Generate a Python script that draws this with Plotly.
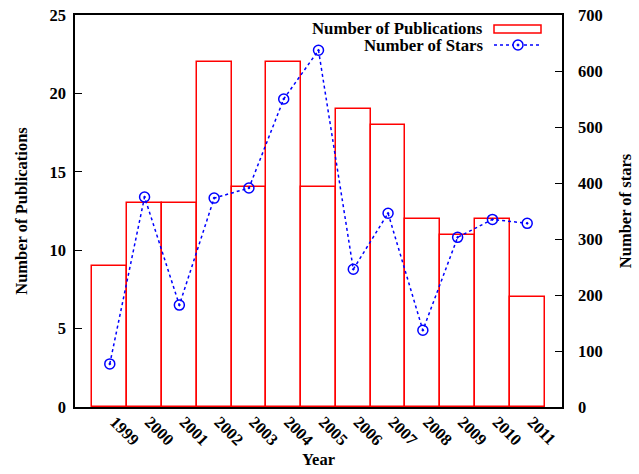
import plotly.graph_objects as go

years = ["1999", "2000", "2001", "2002", "2003", "2004", "2005",
         "2006", "2007", "2008", "2009", "2010", "2011"]
publications = [9, 13, 13, 22, 14, 22, 14, 19, 18, 12, 11, 12, 7]
stars = [77, 375, 182, 373, 391, 550, 637, 246, 346, 137, 303, 335, 328]

FONT = "Liberation Serif"
L, R, T, B = 75, 562, 15, 407   # plot area in window pixels
W, H = 639, 474
PW, PH = R - L, B - T

fig = go.Figure()
fig.add_trace(go.Bar(
    x=years, y=publications, name="Number of Publications", width=1,
    marker=dict(color="rgba(0,0,0,0)", line=dict(color="#ff0000", width=1.5)),
    showlegend=False,
))
fig.add_trace(go.Scatter(
    x=years, y=stars, name="Number of Stars", yaxis="y2", mode="lines+markers",
    line=dict(color="#0000ff", width=1.5, dash="dot"),
    marker=dict(symbol="circle-open-dot", size=10, color="#0000ff", line=dict(width=1.5)),
    showlegend=False,
))

def px(x):
    return (x - L) / PW

def py(y):
    return 1 - (y - T) / PH

# custom legend (text left of key, as in the reference)
legfont = dict(family=FONT, size=16.8, color="black", weight="bold")
fig.add_annotation(text="Number of Publications", xref="paper", yref="paper",
                   x=px(484), y=py(28), xanchor="right", yanchor="middle", borderpad=0,
                   showarrow=False, font=legfont)
fig.add_annotation(text="Number of Stars", xref="paper", yref="paper",
                   x=px(484), y=py(45), xanchor="right", yanchor="middle", borderpad=0,
                   showarrow=False, font=legfont)
fig.add_shape(type="rect", xref="paper", yref="paper", x0=px(494), x1=px(541),
              y0=py(33), y1=py(25),
              line=dict(color="#ff0000", width=1.5), fillcolor="rgba(0,0,0,0)")
fig.add_shape(type="line", xref="paper", yref="paper", x0=px(494), x1=px(541), y0=py(45), y1=py(45),
              line=dict(color="#0000ff", width=1.5, dash="dot"))
fig.add_shape(type="circle", xref="paper", yref="paper", xsizemode="pixel", ysizemode="pixel",
              xanchor=px(518), yanchor=py(45), x0=-5, x1=5, y0=-5, y1=5,
              line=dict(color="#0000ff", width=1.5), fillcolor="white")
fig.add_shape(type="circle", xref="paper", yref="paper", xsizemode="pixel", ysizemode="pixel",
              xanchor=px(518), yanchor=py(45), x0=-1, x1=1, y0=-1, y1=1,
              line=dict(color="#0000ff", width=1), fillcolor="#0000ff")

tickfont = dict(family=FONT, size=16.5, color="black", weight="bold")
titlefont = dict(family=FONT, size=16.5, color="black", weight="bold")

fig.update_layout(
    width=W, height=H,
    margin=dict(l=L, r=W - R, t=T, b=H - B),
    paper_bgcolor="white", plot_bgcolor="white",
    font=dict(family=FONT, size=16, color="black"),
    showlegend=False,
    bargap=0,
    xaxis=dict(
        type="category", range=[-1, 13], showline=True, linecolor="black", linewidth=1.5,
        mirror=True, ticks="", showgrid=False, tickangle=45, tickfont=tickfont,
        automargin=False, ticklabelshift=5, ticklabelstandoff=-3,
        title=dict(text="Year", font=titlefont, standoff=5),
    ),
    yaxis=dict(
        range=[0, 25], dtick=5, showline=True, linecolor="black", linewidth=1.5,
        ticks="inside", ticklen=7, tickcolor="black", showgrid=False, zeroline=False,
        tickfont=tickfont, automargin=False, ticklabeloverflow="allow", ticklabelstandoff=4,
        title=dict(text="Number of Publications", font=titlefont, standoff=18),
    ),
    yaxis2=dict(
        range=[0, 700], dtick=100, overlaying="y", side="right", showline=True,
        linecolor="black", linewidth=1.5, ticks="inside", ticklen=7, tickcolor="black",
        showgrid=False, zeroline=False, tickfont=tickfont, automargin=False,
        ticklabeloverflow="allow", ticklabelstandoff=11,
        title=dict(text="Number of stars", font=titlefont, standoff=18),
    ),
)

fig.write_html("out.html",
               config=dict(displayModeBar=False),
               post_script="document.body.style.margin='0';document.body.style.overflow='hidden';")
